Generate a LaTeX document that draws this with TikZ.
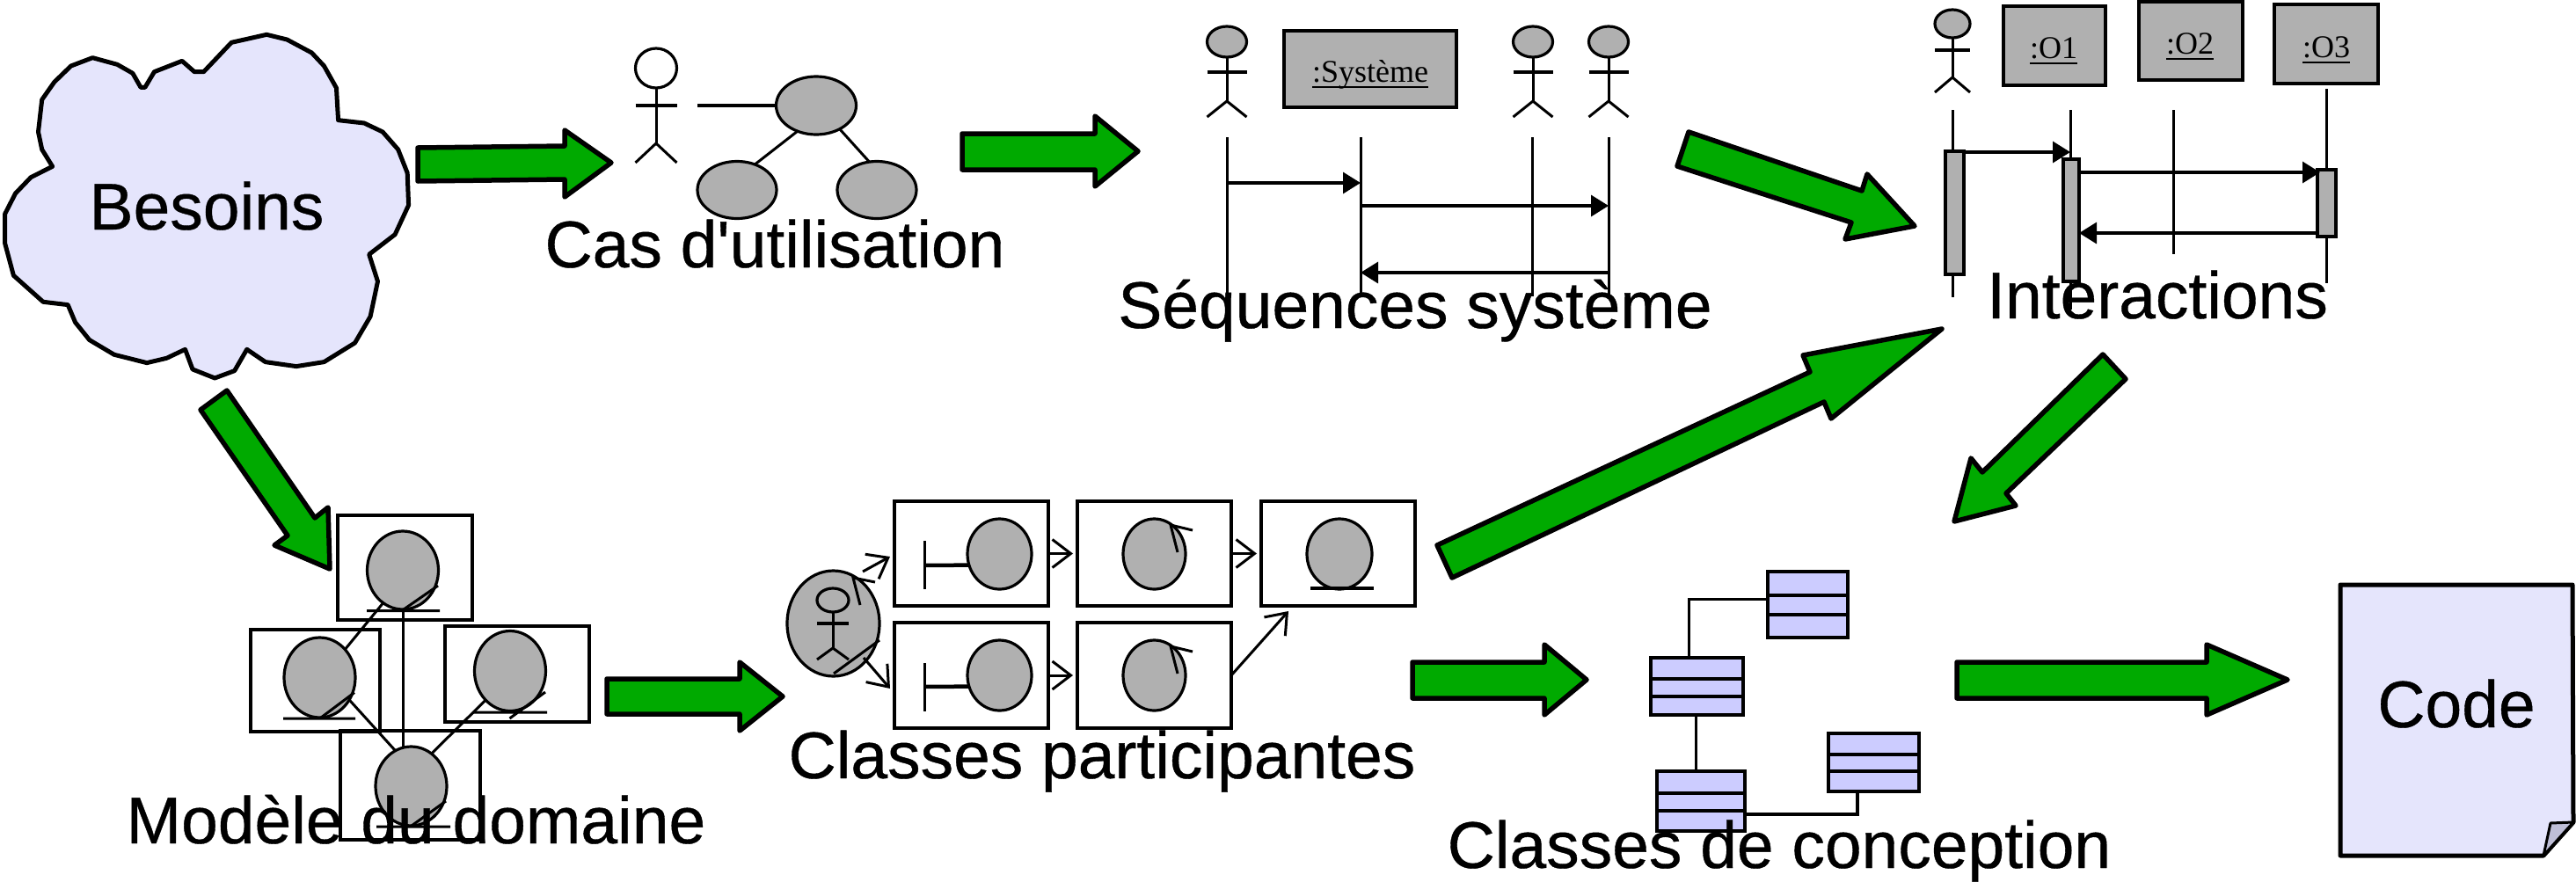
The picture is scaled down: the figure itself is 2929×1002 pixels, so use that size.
\documentclass[tikz,border=0pt]{standalone}
\usepackage{fontspec}
\setmainfont[FakeBold=0.5]{Liberation Sans}
\newfontfamily\serifl{Liberation Serif}
\usetikzlibrary{arrows.meta,shapes.geometric}
\definecolor{arrowgreen}{RGB}{0,170,0}
\definecolor{umlgrey}{RGB}{176,176,176}
\definecolor{cloudblue}{RGB}{229,229,252}
\definecolor{classblue}{RGB}{204,204,255}
\definecolor{foldgrey}{RGB}{190,190,215}
\tikzset{
  blockarrow/.style={draw=black,fill=arrowgreen,line width=5.5pt,line join=round},
  lbl/.style={font=\fontsize{75}{80}\selectfont,inner sep=0pt,anchor=base,text=black},
  thin line/.style={draw=black,line width=3pt},
  msg/.style={draw=black,line width=3.4pt,-{Triangle[length=20pt,width=24pt]}},
  barb/.style={draw=black,line width=3pt,-{Straight Barb[length=21pt,width=32pt,line width=3pt]}},
  oval/.style={shape=ellipse,draw=black,line width=3.2pt,fill=umlgrey,inner sep=0pt,outer sep=0pt},
  frame/.style={shape=rectangle,draw=black,line width=4pt,inner sep=0pt,outer sep=0pt},
  objbox/.style={frame,fill=umlgrey,line width=4.5pt},
  classbox/.style={frame,fill=classblue},
  objtext/.style={font=\serifl\fontsize{36}{40}\selectfont,inner sep=0pt,anchor=base},
}
% ellipse node: style, name, cx, cy, w, h
\newcommand\elnode[6][]{\node[oval,minimum width={(#5)*1pt},minimum height={(#6)*1pt},#1] (#2) at (#3,#4) {};}
% rectangle node: style, name, x1, y1, x2, y2
\newcommand\rectnode[6][frame]{\node[#1,minimum width={(#5-#3)*1pt},minimum height={(#6-#4)*1pt}] (#2) at ({(#3+#5)/2},{(#4+#6)/2}) {};}
% stick figure: fill, name, cx, headtop, headbottom, arm, hip, foot, w
\newcommand\stick[9][umlgrey]{%
  \elnode[fill=#1]{#2}{#3}{{(#4+#5)/2}}{#9}{#5-#4}
  \coordinate (#2hip) at (#3,#7);
  \draw[thin line] (#2.south) -- (#2hip);
  \draw[thin line,line width=3.8pt] ({#3-#9/2},#6) -- ({#3+#9/2},#6);
  \draw[thin line] ({#3-#9/2},#8) -- (#2hip) -- ({#3+#9/2},#8);
}
% label with a rule under it
\newcommand\ulbl[1]{\setbox0\hbox{#1}\rlap{\copy0}\rule[-7pt]{\wd0}{2.4pt}}
% class box: name x1 y1 x2 y2 d1 d2
\newcommand\classnode[7]{%
  \rectnode[classbox]{#1}{#2}{#3}{#4}{#5}
  \draw[line width=3.5pt] (#2,#6) -- (#4,#6) (#2,#7) -- (#4,#7);
}
\begin{document}
\begin{tikzpicture}[x=1pt,y=-1pt]
\useasboundingbox (0,0) rectangle (2929,1002);
\fill[white] (0,0) rectangle (2929,1002);

% cloud
\begin{scope}[x=.7018pt,y=-.3333pt]
\draw[draw=black,fill=cloudblue,line width=5pt,line join=round]
 (228,298)--(215,250)--(190,220)--(150,197)--(115,225)--(88,280)--(68,340)--(62,450)--(68,510)--(85,568)--(50,605)--(25,660)--(8,730)--(8,830)--(22,940)--(70,1030)--(110,1040)--(122,1100)--(145,1160)--(185,1210)--(238,1238)--(270,1222)--(300,1192)--(312,1260)--(348,1290)--(380,1265)--(400,1192)--(430,1235)--(480,1250)--(525,1235)--(575,1170)--(600,1080)--(612,960)--(598,868)--(640,800)--(662,700)--(660,590)--(645,510)--(620,450)--(590,420)--(548,410)--(545,300)--(525,225)--(505,180)--(465,135)--(432,118)--(375,145)--(330,245)--(315,245)--(295,208)--(250,245)--(235,298)--cycle;
\end{scope}

% block arrows
\draw[blockarrow] (475,168)--(642,166)--(642,148)--(695,185)--(642,224)--(642,204)--(475,206)--cycle;
\draw[blockarrow] (1094,152)--(1245,152)--(1245,132)--(1294,172)--(1245,212)--(1245,193)--(1094,193)--cycle;
\draw[blockarrow] (1920,150)--(2117,217)--(2123,198)--(2177,257)--(2098,272)--(2105,253)--(1907,189)--cycle;
\draw[blockarrow] (1634,620)--(2058,423)--(2050,404)--(2208,374)--(2082,476)--(2074,457)--(1651,657)--cycle;
\draw[blockarrow] (2391,403)--(2417,431)--(2281,561)--(2292,575)--(2222,593)--(2241,521)--(2254,537)--cycle;
\draw[blockarrow] (258,444)--(358,589)--(373,577)--(375,647)--(312,620)--(327,609)--(228,466)--cycle;
\draw[blockarrow] (690,772)--(841,772)--(841,753)--(890,792)--(841,831)--(841,812)--(690,812)--cycle;
\draw[blockarrow] (1606,753)--(1756,753)--(1756,733)--(1804,773)--(1756,813)--(1756,794)--(1606,794)--cycle;
\draw[blockarrow] (2225,753)--(2509,753)--(2509,733)--(2601,773)--(2509,813)--(2509,794)--(2225,794)--cycle;

% use cases
\stick[white]{ucactor}{746}{55}{100}{120}{163}{185}{47}
\elnode{uc0}{928}{120}{91}{66}
\elnode{uc1}{838}{216}{90}{65}
\elnode{uc2}{997}{216}{90}{65}
\coordinate (ucfree) at (793,120);
\draw[thin line,line width=3.8pt] (ucfree) -- (uc0.west);
\draw[thin line] (uc1.55) -- (uc0.234);
\draw[thin line] (uc2.105) -- (uc0.-45);

% system sequence
\stick{sa}{1395}{30}{65}{82}{115}{133}{45}
\stick{sb}{1743}{30}{65}{82}{115}{133}{45}
\stick{sc}{1829}{30}{65}{82}{115}{133}{45}
\rectnode[objbox]{sysbox}{1460}{35}{1656}{122}
\node[objtext] (systext) at (1558,93) {\ulbl{:Système}};
\foreach \n/\x in {a/1395,s/1547,b/1742,c/1829}{
  \coordinate (ll\n top) at (\x,156);
  \coordinate (ll\n bot) at (\x,337);
  \draw[thin line] (ll\n top) -- (ll\n bot);
}
\coordinate (m1a) at (1395,208); \coordinate (m1b) at (1547,208);
\coordinate (m2a) at (1547,234); \coordinate (m2b) at (1829,234);
\coordinate (m3a) at (1829,310); \coordinate (m3b) at (1547,310);
\draw[msg] (m1a) -- (m1b);
\draw[msg] (m2a) -- (m2b);
\draw[msg] (m3a) -- (m3b);

% interactions
\stick{ia}{2220}{11}{43}{57}{88}{105}{40}
\rectnode[objbox]{o1}{2278}{7}{2394}{97}
\rectnode[objbox]{o2}{2432}{2}{2550}{91}
\rectnode[objbox]{o3}{2586}{5}{2704}{95}
\node[objtext] (o1t) at (2335,66) {\ulbl{:O1}};
\node[objtext] (o2t) at (2490,61) {\ulbl{:O2}};
\node[objtext] (o3t) at (2645,65) {\ulbl{:O3}};
\coordinate (ila) at (2220,125); \coordinate (ilaz) at (2220,338);
\coordinate (ilb) at (2354,125); \coordinate (ilbz) at (2354,352);
\coordinate (ilc) at (2471,125); \coordinate (ilcz) at (2471,289);
\coordinate (ild) at (2645,101); \coordinate (ildz) at (2645,322);
\draw[thin line] (ila) -- (ilaz);
\draw[thin line] (ilb) -- (ilbz);
\draw[thin line] (ilc) -- (ilcz);
\draw[thin line] (ild) -- (ildz);
\rectnode[objbox]{ba}{2212}{172}{2233}{312}
\rectnode[objbox]{bb}{2346}{181}{2364}{320}
\rectnode[objbox]{bd}{2635}{193}{2656}{269}
\coordinate (i1a) at (2233,173); \coordinate (i1b) at (2354,173);
\coordinate (i2a) at (2364,196); \coordinate (i2b) at (2638,196);
\coordinate (i3a) at (2635,265); \coordinate (i3b) at (2364,265);
\draw[msg] (i1a) -- (i1b);
\draw[msg] (i2a) -- (i2b);
\draw[msg] (i3a) -- (i3b);

% domain model
\rectnode{dbt}{384}{586}{537}{705}
\rectnode{dbl}{285}{716}{432}{832}
\rectnode{dbr}{506}{712}{670}{821}
\rectnode{dbb}{387}{831}{546}{955}
\elnode{dtop}{458}{648.5}{81}{89}
\elnode{dleft}{363.5}{770.5}{81}{91}
\elnode{dright}{580}{763}{81}{91}
\elnode{dbot}{467.5}{894}{81}{90}
\draw[thin line] (417,694.5)--(500,694.5) (459,693)--(498,666);
\draw[thin line] (322,817)--(404,817) (365,816)--(403,787.5);
\draw[thin line] (538,810)--(622,810) (579.5,817)--(620,787);
\draw[thin line] (428,940)--(512,940) (468,939)--(507,911);
\draw[thin line] (dtop.239) -- (dleft.48);
\draw[thin line] (dtop.south) -- (dtop.south |- dbot.north);
\draw[thin line] (dleft.-37) -- (dbot.114);
\draw[thin line] (dright.230) -- (dbot.58);

% participants
\elnode{pact}{947.5}{709}{105}{120}
\stick[umlgrey]{pfig}{947}{669}{696}{709}{737}{750}{36}
\draw[thin line] (978,688)--(970,657)--(995,662);
\draw[thin line] (948,766)--(1000,728);
\rectnode{p1}{1017}{570}{1192}{689}
\rectnode{p2}{1225}{570}{1400}{689}
\rectnode{p3}{1434}{570}{1609}{689}
\rectnode{p4}{1017}{708}{1192}{828}
\rectnode{p5}{1225}{708}{1400}{828}
\elnode{pb1}{1136.5}{630}{73}{80}
\elnode{pc1}{1312.5}{630}{71}{80}
\elnode{pe1}{1523}{630}{74}{80}
\elnode{pb2}{1136.5}{768}{73}{80}
\elnode{pc2}{1312.5}{768}{71}{80}
\draw[thin line] (1051,615)--(1051,670);
\draw[thin line] (1051,754)--(1051,809);
\draw[thin line,line width=4.5pt] (1051,643)--(pb1.200.6);
\draw[thin line,line width=4.5pt] (1051,781)--(pb2.200.6);
\draw[thin line] (1339,628)--(1331,597)--(1356,603);
\draw[thin line] (1339,766)--(1331,735)--(1356,741);
\draw[thin line,line width=4pt] (1490,669)--(1562,669);
\draw[barb,shorten >=5pt] (p1.east) -- (p2.west);
\draw[barb,shorten >=5pt] (p2.east) -- (p3.west);
\draw[barb,shorten >=5pt] (p4.east) -- (p5.west);
\coordinate (p3tip) at (1465,695);
\draw[barb] (p5.east) -- (p3tip);
\coordinate (pfree1) at (981,650);
\coordinate (pfree2) at (982,748);
\coordinate (p1tip) at (1012,633);
\coordinate (p4tip) at (1012,783);
\draw[barb] (pfree1) -- (p1tip);
\draw[barb] (pfree2) -- (p4tip);

% design classes
\classnode{ca}{2010}{650}{2101}{725}{677}{699}
\classnode{cb}{1877}{748}{1982}{813}{772}{792}
\classnode{cc}{2079}{834}{2182}{900}{858}{877}
\classnode{cd}{1884}{877}{1984}{945}{902}{922}
\coordinate (caelbow) at (1920,681);
\coordinate (ccelbow) at (2112,926);
\coordinate (ccfoot) at (2112,900);
\coordinate (cdright) at (1986,926);
\coordinate (cbfoot) at (1928,813);
\coordinate (cdtop) at (1928,877);
\draw[thin line] (caelbow -| ca.west) -- (caelbow) -- (caelbow |- cb.north);
\draw[thin line] (cbfoot) -- (cdtop);
\draw[draw=black,line width=3.5pt] (cdright) -- (ccelbow) -- (ccfoot);

% code document
\draw[draw=black,fill=cloudblue,line width=5pt,line join=round]
 (2661,665)--(2925,665)--(2926,935)--(2892,973)--(2661,973)--cycle;
\draw[draw=black,fill=foldgrey,line width=3pt,line join=round]
 (2900,936)--(2926,935)--(2892,973)--cycle;

% labels
\node[lbl] (besoins) at (235,261) {Besoins};
\node[lbl] (cas) at (881,304) {Cas d\textquotesingle utilisation};
\node[lbl] (seq) at (1609,373) {Séquences système};
\node[lbl] (inter) at (2453,362) {Interactions};
\node[lbl] (modele) at (473,959) {Modèle du domaine};
\node[lbl] (part) at (1253,885) {Classes participantes};
\node[lbl] (conc) at (2023,987) {Classes de conception};
\node[lbl] (code) at (2793,827) {Code};
\end{tikzpicture}
\end{document}
